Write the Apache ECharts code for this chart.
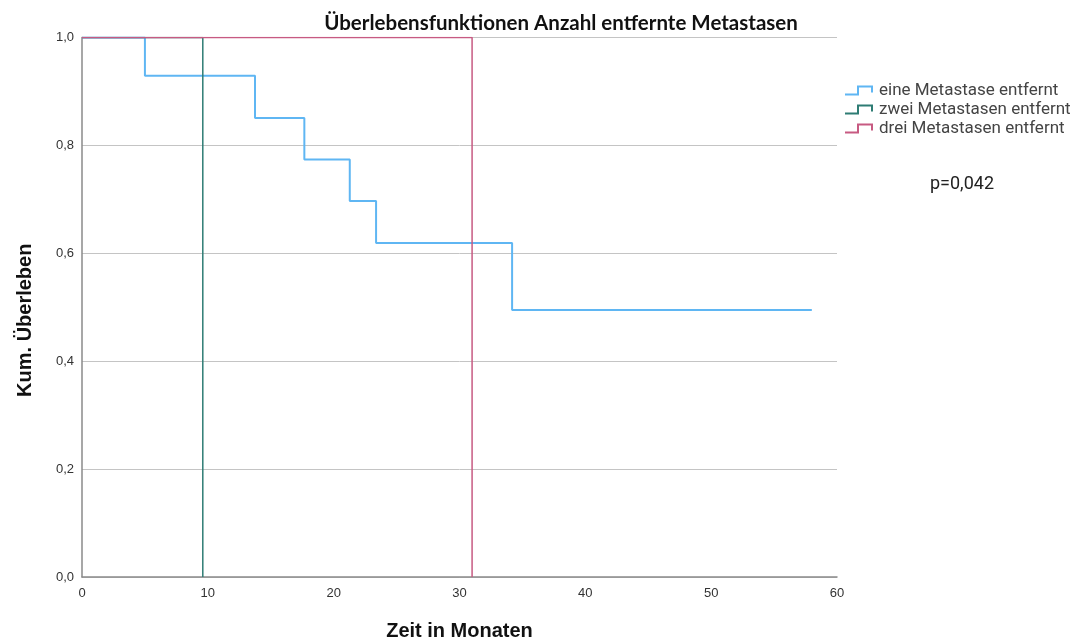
<!DOCTYPE html>
<html>
<head>
<meta charset="utf-8">
<script src="https://cdn.jsdelivr.net/npm/echarts@6/dist/echarts.min.js"></script>
<style>
html,body{margin:0;padding:0;background:#fff;}
#chart{width:1082px;height:639px;}
</style>
</head>
<body>
<div id="chart"></div>
<script>
// Data
const xTicks = [0, 10, 20, 30, 40, 50, 60];
const yTicks = [0, 0.2, 0.4, 0.6, 0.8, 1.0];
const seriesNames = ['eine Metastase entfernt', 'zwei Metastasen entfernt', 'drei Metastasen entfernt'];
// event times (months) and survival after each event
const eineTimes = [0, 5.0, 13.75, 17.67, 21.28, 23.37, 34.18];
const eineSurv  = [1, 0.929, 0.851, 0.774, 0.697, 0.619, 0.495];
const eineEnd = 58.0;
const zweiTimes = [0, 9.6];
const zweiSurv  = [1, 0];
const zweiEnd = 9.6;
const dreiTimes = [0, 31.0];
const dreiSurv  = [1, 0];
const dreiEnd = 31.0;
const pValue = 'p=0,042';

const colors = ['#5fb6f3', '#2e7c74', '#c75a82'];

function stepData(times, surv, end) {
  const pts = [[times[0], surv[0]]];
  for (let i = 1; i < times.length; i++) {
    pts.push([times[i], surv[i - 1]]);
    pts.push([times[i], surv[i]]);
  }
  const last = pts[pts.length - 1];
  if (end > last[0]) pts.push([end, last[1]]);
  return pts;
}

const stepIcon = 'path://M0,8 L12,8 L12,0 L28,0 L28,7 L26,7 L26,2 L14,2 L14,10 L0,10 Z';
const narrow = '"Liberation Sans Narrow", "Liberation Sans", Arial, sans-serif';

const chart = echarts.init(document.getElementById('chart'));
chart.setOption({
  animation: false,
  backgroundColor: '#fff',
  title: {
    text: 'Überlebensfunktionen Anzahl entfernte Metastasen',
    left: 556, top: 8, textAlign: 'center',
    textStyle: { fontFamily: 'Lato, "Open Sans", sans-serif', fontWeight: 'bold', fontSize: 20.5, color: '#111' }
  },
  legend: {
    orient: 'vertical', left: 840, top: 77,
    itemWidth: 30, itemHeight: 10, itemGap: 2,
    textStyle: { fontFamily: 'Roboto, sans-serif', fontSize: 17, lineHeight: 17, color: '#444' },
    data: seriesNames.map((n, i) => ({ name: n, icon: stepIcon, itemStyle: { color: colors[i] } }))
  },
  graphic: [{
    type: 'text', left: 930, top: 175,
    style: { text: pValue, fontFamily: 'Roboto, sans-serif', fontSize: 18, fill: '#222' }
  }],
  grid: { left: 82, right: 245, top: 37.5, bottom: 62, containLabel: false, outerBoundsMode: 'none' },
  xAxis: {
    type: 'value', min: 0, max: 60, interval: 10,
    name: 'Zeit in Monaten', nameLocation: 'middle', nameGap: 44,
    nameTextStyle: { fontFamily: narrow, fontWeight: 'bold', fontSize: 20, color: '#111' },
    axisLine: { lineStyle: { color: '#8a8a8a', width: 1.5 } },
    axisTick: { show: false },
    splitLine: { show: false },
    axisLabel: { fontFamily: narrow, fontSize: 13, color: '#333', margin: 10 }
  },
  yAxis: {
    type: 'value', min: 0, max: 1, interval: 0.2,
    name: 'Kum. Überleben', nameLocation: 'middle', nameGap: 47,
    nameTextStyle: { fontFamily: narrow, fontWeight: 'bold', fontSize: 20, color: '#111', padding: [0, 26, 0, 0] },
    axisLine: { show: true, lineStyle: { color: '#8a8a8a', width: 1.5 } },
    axisTick: { show: false },
    splitLine: { lineStyle: { color: '#c4c4c4', width: 1 } },
    axisLabel: { fontFamily: narrow, fontSize: 13, color: '#333', margin: 8,
      formatter: v => v.toFixed(1).replace('.', ',') }
  },
  series: [
    { name: seriesNames[0], type: 'line', data: stepData(eineTimes, eineSurv, eineEnd),
      showSymbol: false, symbol: 'none', lineStyle: { color: colors[0], width: 2 }, itemStyle: { color: colors[0] }, z: 3 },
    { name: seriesNames[1], type: 'line', data: stepData(zweiTimes, zweiSurv, zweiEnd),
      showSymbol: false, symbol: 'none', lineStyle: { color: colors[1], width: 1.5 }, itemStyle: { color: colors[1] }, z: 4 },
    { name: seriesNames[2], type: 'line', data: stepData(dreiTimes, dreiSurv, dreiEnd),
      showSymbol: false, symbol: 'none', lineStyle: { color: colors[2], width: 1.5 }, itemStyle: { color: colors[2] }, z: 5 }
  ]
});
</script>
</body>
</html>
